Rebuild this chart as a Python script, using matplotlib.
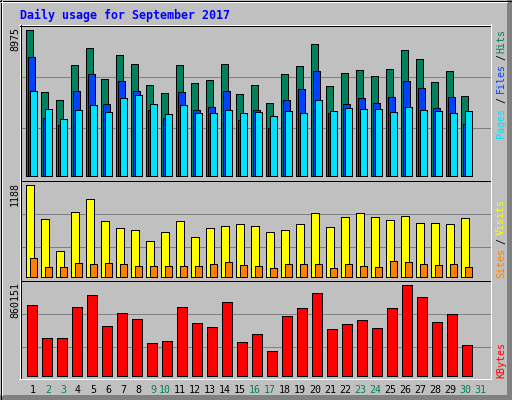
import matplotlib
matplotlib.use("Agg")
import matplotlib.pyplot as plt
from matplotlib.transforms import blended_transform_factory

# 데이터: 2017년 9월 일별 사용량
days = list(range(1, 31))
hits = [8975, 5132, 4664, 6778, 7815, 5924, 7388, 6839, 5559, 5071,
        6778, 5681, 5863, 6839, 5010, 5559, 4461, 6229, 6717, 8119,
        5498, 6290, 6473, 6107, 6534, 7693, 7144, 5742, 6412, 4888]
files = [7266, 3547, 3120, 5193, 6229, 4400, 5802, 5193, 4034, 3547,
         5132, 4034, 4217, 5193, 3425, 4034, 2937, 4644, 5315, 6412,
         3851, 4400, 4766, 4461, 4827, 5802, 5376, 4156, 4827, 3181]
pages = [5193, 4095, 3486, 4034, 4339, 3912, 4766, 4949, 4400, 3790,
         4339, 3851, 3851, 4034, 3851, 3912, 3668, 3973, 3851, 4644,
         3973, 4156, 4095, 4095, 3912, 4217, 4034, 3973, 3851, 3973]
visits = [1188, 737, 324, 827, 995, 711, 621, 595, 453, 569,
          711, 505, 621, 647, 672, 647, 569, 595, 672, 814,
          634, 763, 814, 763, 724, 776, 685, 685, 672, 750]
sites = [234, 118, 118, 170, 157, 170, 157, 131, 131, 131,
         131, 131, 157, 183, 144, 131, 105, 157, 157, 157,
         105, 157, 131, 118, 195, 183, 157, 144, 157, 118]
kbytes = [662735, 352519, 352519, 643934, 756740, 465325, 587531, 531128, 305516, 324317,
          643934, 493526, 455924, 690937, 314917, 390121, 230312, 559330, 634534, 775541,
          437124, 484126, 521728, 446524, 634534, 860151, 737939, 502927, 578131, 286715]
label_days = list(range(1, 32))
weekend_days = [2, 3, 9, 10, 16, 17, 23, 24, 30, 31]
title = "Daily usage for September 2017"

# 색상 (webalizer 기본)
C_HITS = "#00805C"
C_FILES = "#0040FF"
C_PAGES = "#00E0FF"
C_VISITS = "#FFFF00"
C_SITES = "#FF8000"
C_KBYTES = "#FF0000"
C_BG = "#C0C0C0"
C_GRID = "#808080"
MONO = "DejaVu Sans Mono"
LW = 0.72  # 1 px

W, H = 512, 400
fig = plt.figure(figsize=(W / 100, H / 100), dpi=100)
fig.patch.set_facecolor(C_BG)

# 배경/장식용 축 (픽셀 좌표)
bg = fig.add_axes([0, 0, 1, 1], zorder=0)
bg.set_xlim(0, W)
bg.set_ylim(H, 0)
bg.axis("off")


def hline(row, c0, c1, color):
    bg.plot([c0, c1 + 1], [row + 0.5, row + 0.5], color=color, lw=LW,
            solid_capstyle="butt", antialiased=False)


def vline(col, r0, r1, color):
    bg.plot([col + 0.5, col + 0.5], [r0, r1 + 1], color=color, lw=LW,
            solid_capstyle="butt", antialiased=False)


# 바깥 테두리 (3D 효과)
bg.fill_between([507, 512], 0, 400, color=C_GRID, lw=0)
bg.fill_between([0, 512], 395, 400, color=C_GRID, lw=0)
hline(0, 0, 511, "black")
hline(399, 0, 511, "black")
vline(0, 0, 399, "black")
vline(511, 0, 399, "black")
hline(1, 1, 506, "white")
vline(1, 1, 394, "white")

# 격자선
for r in [76, 127, 213, 246, 313, 346]:
    hline(r, 21, 489, C_GRID)

# 패널 테두리
hline(24, 19, 490, "white")
vline(19, 24, 378, "white")
hline(25, 20, 489, "black")
vline(20, 25, 377, "black")
vline(490, 24, 378, "white")
hline(378, 19, 490, "white")
hline(180, 21, 489, "black")
hline(280, 21, 489, "black")

# x 픽셀 -> 일(day) 변환: day d <-> pixel 13 + 15 d
X0, X1 = 21, 490


def px2day(p):
    return (p - 13) / 15.0


def make_axes(r_top, r_bot, base, height, vmax):
    ax = fig.add_axes([X0 / W, (H - r_bot) / H, (X1 - X0) / W, (r_bot - r_top) / H],
                      zorder=1)
    ax.set_xlim(px2day(X0), px2day(X1))
    ax.set_ylim(-(r_bot - base) / height * vmax, (base - r_top) / height * vmax)
    ax.set_axis_off()
    ax.patch.set_visible(False)
    return ax


def draw_bars(ax, values, x1, x2, color):
    off = (x1 + 0.5 - 28) / 15.0
    ax.bar([d + off for d in days], values, width=(x2 - x1) / 15.0, align="edge",
           color=color, edgecolor="black", linewidth=LW, antialiased=False)


ax_top = make_axes(26, 180, 176.5, 147, max(hits))
draw_bars(ax_top, hits, 25, 32, C_HITS)
draw_bars(ax_top, files, 27, 34, C_FILES)
draw_bars(ax_top, pages, 29, 36, C_PAGES)

ax_mid = make_axes(181, 280, 276.5, 92, max(visits))
draw_bars(ax_mid, visits, 25, 33, C_VISITS)
draw_bars(ax_mid, sites, 29, 36, C_SITES)

ax_bot = make_axes(281, 377, 375.5, 91, max(kbytes))
draw_bars(ax_bot, kbytes, 26, 36, C_KBYTES)

# 제목
bg.text(20, 19.5, title, color="#0000FF", family=MONO, fontweight="bold",
        fontsize=8.4, ha="left", va="baseline")

# 왼쪽 최대값 라벨
for top, val in [(27, max(hits)), (182, max(visits)), (282, max(kbytes))]:
    bg.text(15, top, str(val), rotation=90, family=MONO, fontsize=7.2,
            ha="center", va="top", color="black")

# 오른쪽 범례 라벨
legend_parts = [
    (138, "Pages", C_PAGES), (103, "/", "black"), (93, "Files", C_FILES),
    (60, "/", "black"), (53, "Hits", C_HITS),
    (277.5, "Sites", C_SITES), (244, "/", "black"), (235, "Visits", C_VISITS),
    (377.5, "KBytes", C_KBYTES),
]
for y, s, c in legend_parts:
    bg.text(501, y, s, rotation=90, family=MONO, fontsize=7.2,
            ha="center", va="bottom", color=c)

# 날짜 라벨
trans = blended_transform_factory(ax_bot.transData, bg.transData)
for d in label_days:
    off = 5 / 15.0 if d < 10 else 2 / 15.0
    color = C_HITS if d in weekend_days else "black"
    ax_bot.text(d + off, 393, str(d), transform=trans, family=MONO, fontsize=7.2,
                ha="center", va="baseline", color=color, clip_on=False)

fig.savefig("out.png", dpi=100, facecolor=C_BG)
